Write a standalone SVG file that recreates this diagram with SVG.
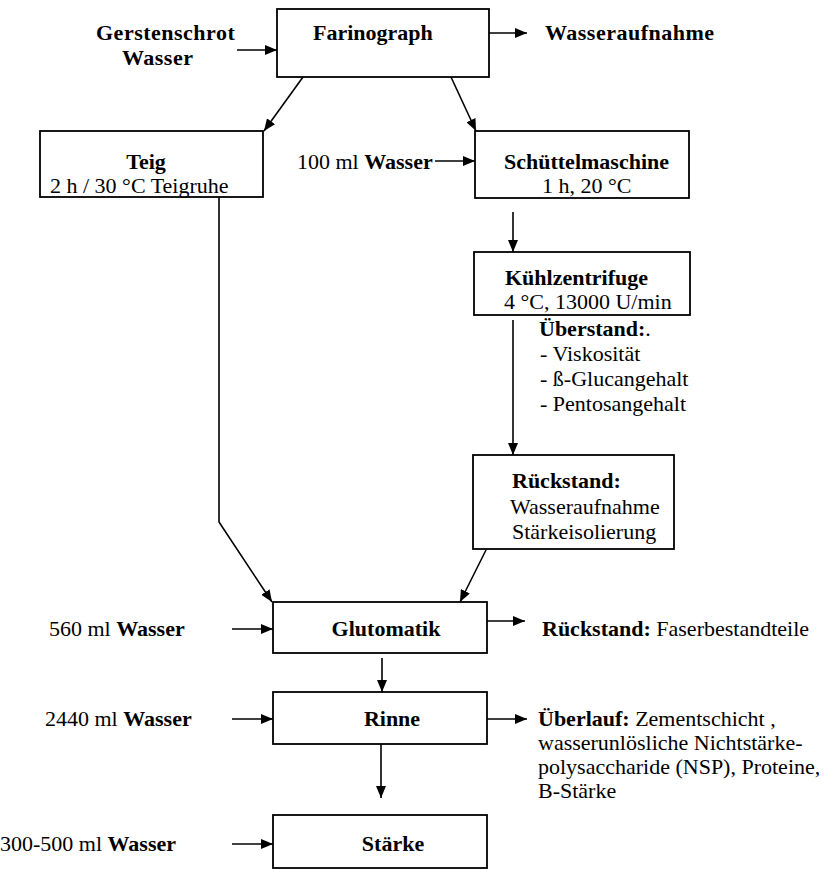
<svg xmlns="http://www.w3.org/2000/svg" width="828" height="869" viewBox="0 0 828 869">
<defs>
<marker id="ah" viewBox="0 0 12 10" refX="12" refY="5" markerWidth="12" markerHeight="10" markerUnits="userSpaceOnUse" orient="auto">
<path d="M0,0 L12,5 L0,10 z" fill="#000"/>
</marker>
</defs>
<style>
text{font-family:"Liberation Serif","Times New Roman",serif;font-size:22px;fill:#000}
.b{font-weight:bold}
.ls{letter-spacing:0.5px}
.box{fill:#fff;stroke:#000;stroke-width:1.8}
.c{fill:none;stroke:#000;stroke-width:1.6;marker-end:url(#ah)}
</style>
<rect width="828" height="869" fill="#fff"/>
<g id="connectors">
<path class="c" d="M237,50 H277"/>
<path class="c" d="M489,33 H527"/>
<path class="c" d="M303,77 L264,131"/>
<path class="c" d="M451,77 L476,131"/>
<path class="c" d="M435,161 H475"/>
<path class="c" d="M513,212 V252"/>
<path class="c" d="M513,320 V455"/>
<path class="c" d="M486,550 L460,602"/>
<path class="c" d="M219,197 V522 L272,602"/>
<path class="c" d="M232,629 H273"/>
<path class="c" d="M487,621 H525"/>
<path class="c" d="M382,658 V692"/>
<path class="c" d="M232,719 H273"/>
<path class="c" d="M487,719 H527"/>
<path class="c" d="M381,744 V798"/>
<path class="c" d="M232,844 H273"/>
</g>
<g id="input-farinograph">
<text class="b ls" x="96" y="40">Gerstenschrot</text>
<text class="b ls" x="122" y="65">Wasser</text>
</g>
<g id="farinograph">
<rect class="box" x="277" y="9" width="212" height="68"/>
<text class="b" x="313" y="40">Farinograph</text>
</g>
<g id="wasseraufnahme">
<text class="b ls" x="545" y="40">Wasseraufnahme</text>
</g>
<g id="teig">
<rect class="box" x="40" y="131" width="223" height="66"/>
<text class="b" x="146" y="169" text-anchor="middle">Teig</text>
<text x="50" y="193">2 h / 30 °C Teigruhe</text>
</g>
<g id="input-schuettel">
<text x="297" y="169">100 ml <tspan class="b">Wasser</tspan></text>
</g>
<g id="schuettelmaschine">
<rect class="box" x="475" y="131" width="214" height="67"/>
<text class="b" x="504" y="169">Schüttelmaschine</text>
<text x="542" y="193">1 h, 20 °C</text>
</g>
<g id="kuehlzentrifuge">
<rect class="box" x="474" y="252" width="216" height="63"/>
<text class="b" x="505" y="285">Kühlzentrifuge</text>
<text x="504" y="309">4 °C, 13000 U/min</text>
</g>
<g id="ueberstand">
<text class="b" x="539" y="336">Überstand:<tspan font-weight="normal">.</tspan></text>
<text x="540" y="361">- Viskosität</text>
<text x="540" y="386">- ß-Glucangehalt</text>
<text x="540" y="411">- Pentosangehalt</text>
</g>
<g id="rueckstand">
<rect class="box" x="473" y="455" width="201" height="94"/>
<text class="b" x="512" y="488">Rückstand:</text>
<text x="510" y="514">Wasseraufnahme</text>
<text x="512" y="539">Stärkeisolierung</text>
</g>
<g id="input-glutomatik">
<text x="49" y="636">560 ml <tspan class="b">Wasser</tspan></text>
</g>
<g id="glutomatik">
<rect class="box" x="273" y="602" width="214" height="51"/>
<text class="b" x="386" y="636" text-anchor="middle">Glutomatik</text>
</g>
<g id="rueckstand-faser">
<text x="542" y="636"><tspan class="b">Rückstand:</tspan> Faserbestandteile</text>
</g>
<g id="input-rinne">
<text x="45" y="726">2440 ml <tspan class="b">Wasser</tspan></text>
</g>
<g id="rinne">
<rect class="box" x="273" y="692" width="214" height="52"/>
<text class="b" x="392" y="726" text-anchor="middle">Rinne</text>
</g>
<g id="ueberlauf">
<text x="538" y="726"><tspan class="b">Überlauf:</tspan> Zementschicht ,</text>
<text x="538" y="750">wasserunlösliche Nichtstärke-</text>
<text x="538" y="774">polysaccharide (NSP), Proteine,</text>
<text x="538" y="798">B-Stärke</text>
</g>
<g id="input-staerke">
<text x="0" y="851">300-500 ml <tspan class="b">Wasser</tspan></text>
</g>
<g id="staerke">
<rect class="box" x="273" y="815" width="214" height="53"/>
<text class="b" x="393" y="851" text-anchor="middle">Stärke</text>
</g>
</svg>
